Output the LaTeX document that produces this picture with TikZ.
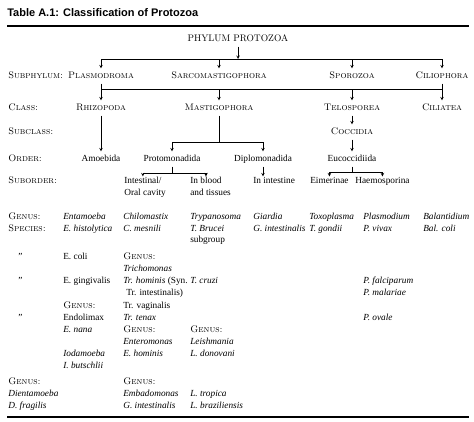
\documentclass[tikz,border=0pt]{standalone}
\usepackage{fontspec}
\setmainfont{Liberation Serif}
\newfontfamily\titlesans{Liberation Sans}
\newcommand\bodyfont{\fontsize{9.3}{11}\selectfont}
\newcommand\lmfont{\fontfamily{lmr}\fontsize{9.5}{11}\selectfont}
\newcommand\capsfont{\lmfont\scshape}
\tikzset{
  taxon/.style={inner xsep=0pt,inner ysep=3pt,text height=6.5pt,text depth=2pt,font=\capsfont},
  rank/.style={anchor=west,inner sep=0pt,text height=6.5pt,text depth=2pt,font=\capsfont},
  entry/.style={anchor=west,inner sep=0pt,text height=6.5pt,text depth=2pt,font=\bodyfont},
  spec/.style={entry,font=\bodyfont\itshape},
}
\begin{document}
\begin{tikzpicture}[x=1pt,y=-1pt,>=stealth,line width=.6pt]
  \useasboundingbox (0,0) rectangle (474,421);
  % title and rules
  \node[anchor=west,inner sep=0pt,font=\titlesans\bfseries\fontsize{11}{13}\selectfont] (title) at (7,13) {Table A.1: Classification of Protozoa};
  \coordinate (ruleTl) at (7,26); \coordinate (ruleTr) at (469,26);
  \coordinate (ruleBl) at (7,417); \coordinate (ruleBr) at (469,417);
  \draw[line width=1.3pt] (ruleTl) -- (ruleTr);
  \draw[line width=1.3pt] (ruleBl) -- (ruleBr);
  % rank labels
  \node[rank] (lsub) at (8,76) {Subphylum:};
  \node[rank] (lclass) at (8,108) {Class:};
  \node[rank] (lsubcl) at (8,132) {Subclass:};
  \node[rank] (lorder) at (8,159) {Order:};
  \node[rank] (lsubord) at (8,181) {Suborder:};
  \node[rank] (lgenus) at (8,217) {Genus:};
  \node[rank] (lspecies) at (8,229) {Species:};
  % tree
  \node[taxon,font=\lmfont] (phylum) at (238,39) {PHYLUM PROTOZOA};
  \node[taxon] (plasmo) at (101,76) {Plasmodroma};
  \node[taxon] (sarco) at (219,76) {Sarcomastigophora};
  \node[taxon] (sporo) at (352,76) {Sporozoa};
  \node[taxon] (cilio) at (442,76) {Ciliophora};
  \node[taxon] (rhizo) at (101,108) {Rhizopoda};
  \node[taxon] (mastigo) at (219,108) {Mastigophora};
  \node[taxon] (telo) at (352,108) {Telosporea};
  \node[taxon] (ciliatea) at (442,108) {Ciliatea};
  \node[taxon] (cocci) at (352,132) {Coccidia};
  \node[taxon,font=\bodyfont] (amoeb) at (101,159) {Amoebida};
  \node[taxon,font=\bodyfont] (proto) at (172,159) {Protomonadida};
  \node[taxon,font=\bodyfont] (diplo) at (263,159) {Diplomonadida};
  \node[taxon,font=\bodyfont] (eucocc) at (352,159) {Eucoccidiida};
  \node[entry] (intestA) at (124,181) {Intestinal/};
  \node[entry] (intestB) at (124,193) {Oral cavity};
  \node[entry] (bloodA) at (190,181) {In blood};
  \node[entry] (bloodB) at (190,193) {and tissues};
  \node[entry] (inint) at (253,181) {In intestine};
  \node[entry] (eimer) at (310,181) {Eimerinae};
  \node[entry] (haemo) at (355,181) {Haemosporina};
  \coordinate (barA) at (0,59);
  \coordinate (barB) at (0,89);
  \coordinate (barC) at (0,142);
  \coordinate (barD) at (0,173);
  \coordinate (barE) at (0,172);
  \draw[->] (phylum) -- (phylum |- barA);
  \draw (plasmo |- barA) -- (cilio |- barA);
  \foreach \n in {plasmo,sarco,sporo,cilio}
    \draw[->] (\n |- barA) -- (\n);
  \draw (plasmo |- barB) -- (cilio |- barB);
  \draw[->] (plasmo) -- (rhizo);
  \draw[->] (cilio) -- (ciliatea);
  \foreach \n in {mastigo,telo}
    \draw[->] (\n |- barB) -- (\n);
  \draw[->] (rhizo) -- (amoeb);
  \draw (mastigo) -- (mastigo |- barC);
  \draw (proto |- barC) -- (diplo |- barC);
  \foreach \n in {proto,diplo}
    \draw[->] (\n |- barC) -- (\n);
  \draw[->] (telo) -- (cocci);
  \draw[->] (cocci) -- (eucocc);
  \draw (proto) -- (proto |- barD);
  \draw (intestA |- barD) -- (bloodA |- barD);
  \foreach \n in {intestA,bloodA}
    \draw[->] (\n |- barD) -- (\n);
  \draw[->] (diplo) -- (diplo |- inint.north);
  \draw (eucocc) -- (eucocc |- barE);
  \draw (eimer |- barE) -- (haemo |- barE);
  \foreach \n in {eimer,haemo}
    \draw[->] (\n |- barE) -- (\n);
  % genera and species
  \node[entry] (dittoA) at (18,257) {\textquotedblright};
  \node[entry] (dittoB) at (18,281) {\textquotedblright};
  \node[entry] (dittoC) at (18,318) {\textquotedblright};
  \node[rank] (dgenus) at (8,382) {Genus:};
  \node[spec] (dientam) at (8,394) {Dientamoeba};
  \node[spec] (dfrag) at (8,406) {D. fragilis};
  \node[spec] (entamoeba) at (63,217) {Entamoeba};
  \node[spec] (ehisto) at (63,229) {E. histolytica};
  \node[entry] (ecoli) at (63,257) {E. coli};
  \node[entry] (egingi) at (63,281) {E. gingivalis};
  \node[rank] (endgenus) at (63,306) {Genus:};
  \node[entry] (endolimax) at (63,318) {Endolimax};
  \node[spec] (enana) at (63,330) {E. nana};
  \node[spec] (iodamoeba) at (63,354) {Iodamoeba};
  \node[spec] (ibutsch) at (63,366) {I. butschlii};
  \node[spec] (chilom) at (123,217) {Chilomastix};
  \node[spec] (cmesn) at (123,229) {C. mesnili};
  \node[rank] (trgenus) at (123,257) {Genus:};
  \node[spec] (trichom) at (123,269) {Trichomonas};
  \node[entry] (trhomin) at (123,281) {\textit{Tr. hominis} (Syn.};
  \node[entry] (trintest) at (126,293) {Tr. intestinalis)};
  \node[entry] (trvagin) at (123,306) {Tr. vaginalis};
  \node[spec] (trtenax) at (123,318) {Tr. tenax};
  \node[rank] (entgenus) at (123,330) {Genus:};
  \node[spec] (enterom) at (123,342) {Enteromonas};
  \node[spec] (ehomin) at (123,354) {E. hominis};
  \node[rank] (embgenus) at (123,382) {Genus:};
  \node[spec] (embadom) at (123,394) {Embadomonas};
  \node[spec] (gintestB) at (123,406) {G. intestinalis};
  \node[spec] (trypan) at (190,217) {Trypanosoma};
  \node[spec] (tbrucei) at (190,229) {T. Brucei};
  \node[entry] (subgroup) at (190,240) {subgroup};
  \node[spec] (tcruzi) at (190,281) {T. cruzi};
  \node[rank] (leigenus) at (190,330) {Genus:};
  \node[spec] (leishm) at (190,342) {Leishmania};
  \node[spec] (ldonov) at (190,354) {L. donovani};
  \node[spec] (ltrop) at (190,394) {L. tropica};
  \node[spec] (lbrazil) at (190,406) {L. braziliensis};
  \node[spec] (giardia) at (253,217) {Giardia};
  \node[spec] (gintestA) at (253,229) {G. intestinalis};
  \node[spec] (toxo) at (309,217) {Toxoplasma};
  \node[spec] (tgondii) at (309,229) {T. gondii};
  \node[spec] (plasmod) at (363,217) {Plasmodium};
  \node[spec] (pvivax) at (363,229) {P. vivax};
  \node[spec] (pfalci) at (363,281) {P. falciparum};
  \node[spec] (pmalar) at (363,293) {P. malariae};
  \node[spec] (povale) at (363,318) {P. ovale};
  \node[spec] (balant) at (423,217) {Balantidium};
  \node[spec] (balcoli) at (423,229) {Bal. coli};
\end{tikzpicture}
\end{document}
